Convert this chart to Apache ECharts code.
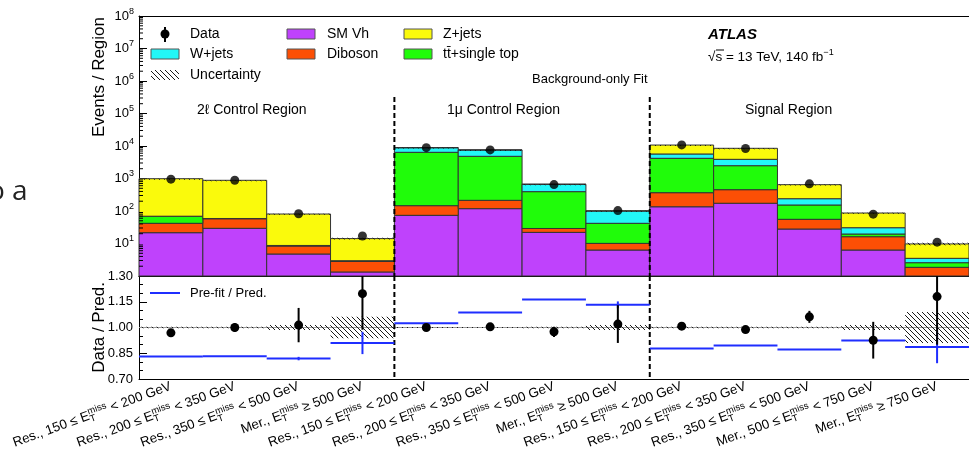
<!DOCTYPE html>
<html>
<head>
<meta charset="utf-8">
<script src="https://cdn.jsdelivr.net/npm/echarts@6/dist/echarts.min.js"></script>
<style>
  html, body { margin: 0; padding: 0; background: #fff; }
  #chart { width: 969px; height: 457px; }
</style>
</head>
<body>
<div id="chart"></div>
<script>
// ---- bins (E_T^miss categories) ----
const binLead = ['Res., 150 ≤ ', 'Res., 200 ≤ ', 'Res., 350 ≤ ', 'Mer., ',
                 'Res., 150 ≤ ', 'Res., 200 ≤ ', 'Res., 350 ≤ ', 'Mer., ',
                 'Res., 150 ≤ ', 'Res., 200 ≤ ', 'Res., 350 ≤ ', 'Mer., 500 ≤ ', 'Mer., '];
const binTail = [' < 200 GeV', ' < 350 GeV', ' < 500 GeV', ' ≥ 500 GeV',
                 ' < 200 GeV', ' < 350 GeV', ' < 500 GeV', ' ≥ 500 GeV',
                 ' < 200 GeV', ' < 350 GeV', ' < 500 GeV', ' < 750 GeV', ' ≥ 750 GeV'];

// ---- post-fit yields per process (events / region) ----
const smVh    = [21.5, 29.3, 4.75, 1.33, 73.6, 118, 22, 6.3, 135, 173, 27.9, 6.3, 0.8];
const diboson = [20.3, 28.7, 3.65, 1.5, 72.4, 95, 7, 3.8, 231, 280, 27.6, 9.9, 1.05];
const ttbar   = [26.8, 0.5, 0.2, 0.07, 6254, 4607, 365, 31.7, 3814, 2027, 97.5, 3.4, 0.72];
const wjets   = [0.5, 0.3, 0.1, 0.05, 2470, 2710, 268, 58.2, 1500, 1410, 86, 11, 0.93];
const zjets   = [917, 821, 72, 11.2, 20, 20, 3, 1, 5020, 4600, 407, 56, 6.2];

// ---- observed data ----
const dataCounts = [955, 880, 82, 17, 8890, 7580, 648, 103, 10790, 8390, 686, 80, 11];

// ---- lower panel ----
const ratioVals  = [0.969, 1.0, 1.014, 1.197, 1.0, 1.004, 0.975, 1.02, 1.008, 0.988, 1.062, 0.926, 1.18];
const ratioErr   = [0.02, 0.025, 0.10, 0.21, 0.012, 0.012, 0.03, 0.11, 0.01, 0.012, 0.035, 0.107, 0.28];
const prefitVals = [0.831, 0.833, 0.819, 0.91, 1.025, 1.0875, 1.163, 1.132, 0.877, 0.895, 0.872, 0.924, 0.887];
const prefitErr  = [0, 0, 0.01, 0.065, 0, 0, 0, 0.02, 0, 0, 0, 0, 0.095];
const relUnc     = [0.004, 0.004, 0.015, 0.063, 0.003, 0.003, 0.004, 0.015, 0.004, 0.004, 0.005, 0.015, 0.09];

// ---- region layout ----
const regionNames = ['2ℓ Control Region', '1μ Control Region', 'Signal Region'];
const separatorBins = [4, 8];
const separatorTop = 3.2e5;

const MAIN_MIN = 1, MAIN_MAX = 1e8;
const RATIO_MIN = 0.7, RATIO_MAX = 1.3;
const FONT = '"Liberation Sans", Arial, Helvetica, sans-serif';

const processes = [
  { name: 'SM Vh',          values: smVh,    color: '#bf42fc' },
  { name: 'Diboson',        values: diboson, color: '#fc4f05' },
  { name: 'tt̄+single top', values: ttbar,   color: '#20fc0a' },
  { name: 'W+jets',         values: wjets,   color: '#22f7f7' },
  { name: 'Z+jets',         values: zjets,   color: '#fafa0c' }
];

// the subscript T is shifted under the superscript "miss" (near-zero advance)
const categories = binLead.map((lead, i) => lead + 'E{sub|T}{sup|miss}' + binTail[i]);
const totals = categories.map((_, i) => processes.reduce((s, p) => s + p.values[i], 0));

// hatch pattern for the uncertainty band
const hatchCanvas = document.createElement('canvas');
hatchCanvas.width = 5; hatchCanvas.height = 5;
(function () {
  const g = hatchCanvas.getContext('2d');
  g.strokeStyle = '#1a1a1a';
  g.lineWidth = 1;
  g.beginPath();
  g.moveTo(-1, -1); g.lineTo(6, 6);
  g.moveTo(-1, 4); g.lineTo(1, 6);
  g.moveTo(4, -1); g.lineTo(6, 1);
  g.stroke();
})();
const hatchFill = { image: hatchCanvas, repeat: 'repeat' };

function bandWidth(api, v) {
  return api.coord([1, v])[0] - api.coord([0, v])[0];
}

// stacked histogram segments
const stackSeries = processes.map((p, k) => ({
  type: 'custom',
  name: p.name,
  xAxisIndex: 0, yAxisIndex: 0, z: 2,
  data: categories.map((_, i) => {
    let lo = 0;
    for (let j = 0; j < k; j++) lo += processes[j].values[i];
    return [i, lo, lo + p.values[i]];
  }),
  encode: { x: 0, y: 2 },
  renderItem(params, api) {
    const i = api.value(0);
    const lo = Math.max(api.value(1), MAIN_MIN);
    const hi = api.value(2);
    if (hi <= MAIN_MIN) return null;
    const w = bandWidth(api, 10);
    const top = api.coord([i, hi]);
    const bot = api.coord([i, lo]);
    return {
      type: 'rect',
      shape: { x: top[0] - w / 2, y: top[1], width: w, height: bot[1] - top[1] },
      style: { fill: p.color, stroke: '#333', lineWidth: 1 }
    };
  }
}));

// uncertainty band on the total prediction
const mainUncSeries = {
  type: 'custom', name: 'Uncertainty', xAxisIndex: 0, yAxisIndex: 0, z: 3,
  data: totals.map((t, i) => [i, t * (1 - relUnc[i]), t * (1 + relUnc[i])]),
  encode: { x: 0, y: 2 },
  renderItem(params, api) {
    const i = api.value(0);
    const w = bandWidth(api, 10);
    const a = api.coord([i, api.value(2)]);
    const b = api.coord([i, api.value(1)]);
    return { type: 'rect', shape: { x: a[0] - w / 2, y: a[1], width: w, height: Math.max(b[1] - a[1], 1) },
             style: { fill: hatchFill, stroke: null } };
  }
};

const ratioUncSeries = {
  type: 'custom', xAxisIndex: 2, yAxisIndex: 1, z: 3,
  data: relUnc.map((u, i) => [i, 1 - u, 1 + u]),
  encode: { x: 0, y: 2 },
  renderItem(params, api) {
    const i = api.value(0);
    const w = bandWidth(api, 1);
    const a = api.coord([i, Math.min(api.value(2), RATIO_MAX)]);
    const b = api.coord([i, Math.max(api.value(1), RATIO_MIN)]);
    return { type: 'rect', shape: { x: a[0] - w / 2, y: a[1], width: w, height: Math.max(b[1] - a[1], 1) },
             style: { fill: hatchFill, stroke: null } };
  }
};

// minor ticks of the log axis (2..9 x 10^n)
const minorLogValues = [];
for (let e = 0; e < 8; e++) for (let m = 2; m <= 9; m++) minorLogValues.push(m * Math.pow(10, e));
const minorLogSeries = {
  type: 'custom', xAxisIndex: 0, yAxisIndex: 0, z: 6, silent: true,
  data: minorLogValues.map(v => [0, v]),
  encode: { x: 0, y: 1 },
  renderItem(params, api) {
    const y = api.coord([0, api.value(1)])[1];
    const x0 = params.coordSys.x;
    return { type: 'line', shape: { x1: x0, y1: y, x2: x0 + 4, y2: y }, style: { stroke: '#000', lineWidth: 1 } };
  }
};

// region separators in both panels
const sepMain = {
  type: 'custom', xAxisIndex: 0, yAxisIndex: 0, z: 7, silent: true,
  data: separatorBins.map(k => [k, separatorTop]),
  encode: { x: 0, y: 1 },
  renderItem(params, api) {
    const k = api.value(0);
    const w = bandWidth(api, 10);
    const a = api.coord([k, api.value(1)]);
    const b = api.coord([k, MAIN_MIN]);
    const x = a[0] - w / 2;
    return { type: 'line', shape: { x1: x, y1: a[1], x2: x, y2: b[1] },
             style: { stroke: '#000', lineWidth: 2, lineDash: [5, 3] } };
  }
};
const sepRatio = {
  type: 'custom', xAxisIndex: 2, yAxisIndex: 1, z: 7, silent: true,
  data: separatorBins.map(k => [k, RATIO_MAX]),
  encode: { x: 0, y: 1 },
  renderItem(params, api) {
    const k = api.value(0);
    const w = bandWidth(api, 1);
    const a = api.coord([k, RATIO_MAX]);
    const b = api.coord([k, RATIO_MIN]);
    const x = a[0] - w / 2;
    return { type: 'line', shape: { x1: x, y1: a[1], x2: x, y2: b[1] },
             style: { stroke: '#000', lineWidth: 2, lineDash: [5, 3] } };
  }
};

// unity reference line
const unitySeries = {
  type: 'custom', xAxisIndex: 2, yAxisIndex: 1, z: 2, silent: true,
  data: [[0, 1]],
  encode: { x: 0, y: 1 },
  renderItem(params, api) {
    const y = api.coord([0, 1])[1];
    const cs = params.coordSys;
    return { type: 'line', shape: { x1: cs.x, y1: y, x2: cs.x + cs.width, y2: y },
             style: { stroke: '#9a9a9a', lineWidth: 1 } };
  }
};

// pre-fit / prediction
const prefitSeries = {
  type: 'custom', name: 'Pre-fit / Pred.', xAxisIndex: 2, yAxisIndex: 1, z: 8,
  data: prefitVals.map((v, i) => [i, v, prefitErr[i]]),
  encode: { x: 0, y: 1 },
  renderItem(params, api) {
    const i = api.value(0), v = api.value(1), e = api.value(2);
    const w = bandWidth(api, 1);
    const c = api.coord([i, v]);
    const children = [{ type: 'line', shape: { x1: c[0] - w / 2, y1: c[1], x2: c[0] + w / 2, y2: c[1] },
                        style: { stroke: '#1f2eff', lineWidth: 2 } }];
    if (e > 0) {
      const a = api.coord([i, Math.min(v + e, RATIO_MAX)]);
      const b = api.coord([i, Math.max(v - e, RATIO_MIN)]);
      children.push({ type: 'line', shape: { x1: c[0], y1: a[1], x2: c[0], y2: b[1] },
                      style: { stroke: '#1f2eff', lineWidth: 2 } });
    }
    return { type: 'group', children };
  }
};

// data / prediction points
const ratioDataSeries = {
  type: 'custom', name: 'Data / Pred.', xAxisIndex: 2, yAxisIndex: 1, z: 9,
  data: ratioVals.map((v, i) => [i, v, ratioErr[i]]),
  encode: { x: 0, y: 1 },
  renderItem(params, api) {
    const i = api.value(0), v = api.value(1), e = api.value(2);
    const c = api.coord([i, v]);
    const a = api.coord([i, Math.min(v + e, RATIO_MAX)]);
    const b = api.coord([i, Math.max(v - e, RATIO_MIN)]);
    return { type: 'group', children: [
      { type: 'line', shape: { x1: c[0], y1: a[1], x2: c[0], y2: b[1] }, style: { stroke: '#000', lineWidth: 2 } },
      { type: 'circle', shape: { cx: c[0], cy: c[1], r: 4.5 }, style: { fill: '#000' } }
    ] };
  }
};

const mainDataSeries = {
  type: 'scatter', name: 'Data', xAxisIndex: 0, yAxisIndex: 0, z: 9,
  data: dataCounts.map((v, i) => [i, v]),
  symbol: 'circle', symbolSize: 9,
  itemStyle: { color: '#000' }
};

// ---- decorations: legend, labels, titles ----
const txt = (x, y, text) => ({
  type: 'text', x, y, silent: true,
  style: { text, font: '14px ' + FONT, fill: '#000', align: 'left', verticalAlign: 'middle' }
});

const box = (x, y, fill) => ({ type: 'rect', silent: true, shape: { x, y, width: 28, height: 10 },
  style: { fill, stroke: '#555', lineWidth: 1 } });

const graphics = [
  // partial slide text at the left border
  { type: 'text', x: -12, y: 192, silent: true,
    style: { text: 'o a', font: '28px "Open Sans", "Noto Sans", sans-serif', fill: '#222', align: 'left', verticalAlign: 'middle' } },
  // axis titles
  { type: 'text', x: 99, y: 17, rotation: Math.PI / 2, silent: true,
    style: { text: 'Events / Region', font: '17px ' + FONT, fill: '#000', align: 'right', verticalAlign: 'middle' } },
  { type: 'text', x: 99, y: 282, rotation: Math.PI / 2, silent: true,
    style: { text: 'Data / Pred.', font: '17px ' + FONT, fill: '#000', align: 'right', verticalAlign: 'middle' } },
  // legend column 1
  { type: 'line', silent: true, shape: { x1: 165, y1: 27, x2: 165, y2: 42 }, style: { stroke: '#000', lineWidth: 2 } },
  { type: 'circle', silent: true, shape: { cx: 165, cy: 34, r: 4.5 }, style: { fill: '#000' } },
  txt(190, 34, 'Data'),
  box(151, 49, processes[3].color), txt(190, 54, 'W+jets'),
  { type: 'rect', silent: true, shape: { x: 151, y: 70, width: 28, height: 10 }, style: { fill: hatchFill } },
  txt(190, 75, 'Uncertainty'),
  // legend column 2
  box(287, 29, processes[0].color), txt(327, 34, 'SM Vh'),
  box(287, 49, processes[1].color), txt(327, 54, 'Diboson'),
  // legend column 3
  box(404, 29, processes[4].color), txt(443, 34, 'Z+jets'),
  box(404, 49, processes[2].color), txt(443, 54, 'tt̄+single top'),
  // experiment label
  { type: 'text', x: 708, y: 35, silent: true,
    style: { text: 'ATLAS', font: 'italic bold 15px ' + FONT, fill: '#000', align: 'left', verticalAlign: 'middle' } },
  { type: 'text', x: 708, y: 57, silent: true,
    style: { text: '√s = 13 TeV, 140 fb{s|−1}', font: '13.5px ' + FONT, fill: '#000', align: 'left', verticalAlign: 'middle',
             rich: { s: { fontSize: 9, verticalAlign: 'top', lineHeight: 18, fontFamily: FONT } } } },
  { type: 'line', silent: true, shape: { x1: 716, y1: 50, x2: 724, y2: 50 }, style: { stroke: '#000', lineWidth: 1 } },
  { type: 'text', x: 532, y: 79, silent: true,
    style: { text: 'Background-only Fit', font: '13px ' + FONT, fill: '#000', align: 'left', verticalAlign: 'middle' } },
  // region labels
  txt(197, 110, regionNames[0]),
  txt(447, 110, regionNames[1]),
  txt(745, 110, regionNames[2]),
  // lower-panel legend
  { type: 'line', silent: true, shape: { x1: 150, y1: 293, x2: 180, y2: 293 }, style: { stroke: '#1f2eff', lineWidth: 2 } },
  { type: 'text', x: 190, y: 293, silent: true,
    style: { text: 'Pre-fit / Pred.', font: '13px ' + FONT, fill: '#000', align: 'left', verticalAlign: 'middle' } }
];

const tickStyle = { color: '#000', width: 1 };
const axisLineStyle = { lineStyle: { color: '#000', width: 1 } };

const option = {
  animation: false,
  backgroundColor: '#fff',
  textStyle: { fontFamily: FONT },
  grid: [
    { left: 139, top: 16, width: 837, height: 260 },
    { left: 139, top: 276, width: 837, height: 103 }
  ],
  xAxis: [
    { gridIndex: 0, type: 'category', data: categories, position: 'bottom',
      axisLine: axisLineStyle, axisTick: { inside: true, length: 6, interval: 0, lineStyle: tickStyle },
      axisLabel: { show: false }, splitLine: { show: false } },
    { gridIndex: 0, type: 'category', data: categories, position: 'top',
      axisLine: axisLineStyle, axisTick: { inside: true, length: 6, interval: 0, lineStyle: tickStyle },
      axisLabel: { show: false }, splitLine: { show: false } },
    { gridIndex: 1, type: 'category', data: categories, position: 'bottom',
      axisLine: axisLineStyle, axisTick: { inside: true, length: 6, interval: 0, lineStyle: tickStyle },
      axisLabel: {
        interval: 0, rotate: 20, margin: 7, color: '#000', fontSize: 13.3, lineHeight: 18, fontFamily: FONT,
        rich: {
          sub: { fontSize: 9.5, verticalAlign: 'bottom', lineHeight: 18, padding: [0, -5.8, 0, 0], fontFamily: FONT },
          sup: { fontSize: 9.5, verticalAlign: 'top', lineHeight: 18, fontFamily: FONT }
        }
      },
      splitLine: { show: false } },
    { gridIndex: 1, type: 'category', data: categories, position: 'top',
      axisLine: axisLineStyle, axisTick: { inside: true, length: 6, interval: 0, lineStyle: tickStyle },
      axisLabel: { show: false }, splitLine: { show: false } }
  ],
  yAxis: [
    { gridIndex: 0, type: 'log', logBase: 10, min: MAIN_MIN, max: MAIN_MAX, splitNumber: 8,
      axisLine: { show: true, lineStyle: { color: '#000', width: 1 } },
      axisTick: { show: true, inside: true, length: 8, lineStyle: tickStyle },
      splitLine: { show: false },
      axisLabel: {
        margin: 5, color: '#000', fontSize: 13, lineHeight: 18, fontFamily: FONT,
        formatter: v => {
          const e = Math.round(Math.log10(v));
          return e === 0 ? '' : '10{s|' + e + '}';
        },
        rich: { s: { fontSize: 9, verticalAlign: 'top', lineHeight: 18, fontFamily: FONT } }
      } },
    { gridIndex: 1, type: 'value', min: RATIO_MIN, max: RATIO_MAX, interval: 0.15,
      axisLine: { show: true, lineStyle: { color: '#000', width: 1 } },
      axisTick: { show: true, inside: true, length: 8, lineStyle: tickStyle },
      minorTick: { show: true, splitNumber: 3, length: 4, lineStyle: tickStyle },
      splitLine: { show: false },
      axisLabel: { margin: 6, color: '#000', fontSize: 13, fontFamily: FONT,
                   formatter: v => v.toFixed(2) } }
  ],
  series: [
    ...stackSeries,
    mainUncSeries,
    minorLogSeries,
    sepMain,
    mainDataSeries,
    unitySeries,
    ratioUncSeries,
    sepRatio,
    prefitSeries,
    ratioDataSeries
  ],
  graphic: graphics
};

const chart = echarts.init(document.getElementById('chart'), null, { renderer: 'canvas' });
chart.setOption(option);
</script>
</body>
</html>
